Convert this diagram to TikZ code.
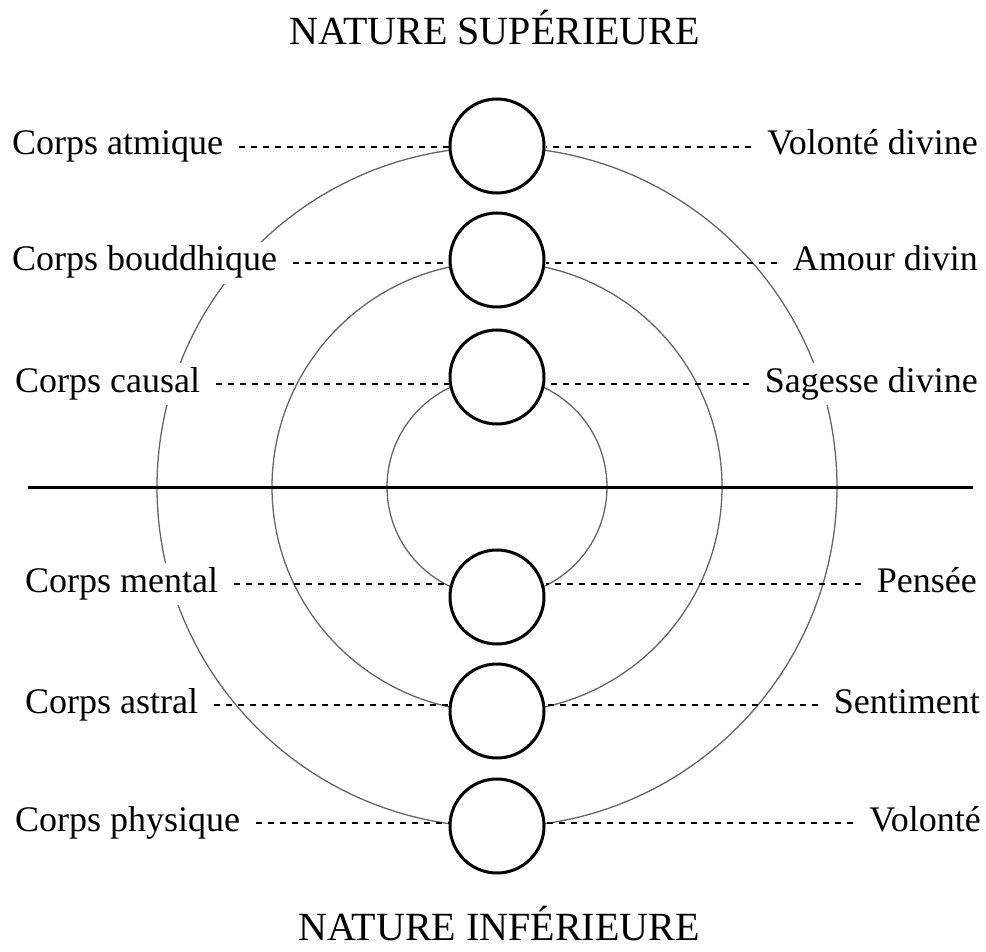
\documentclass[tikz,border=0pt]{standalone}
\usepackage{fontspec}
\setmainfont{Liberation Serif}
\begin{document}
\begin{tikzpicture}[x=1pt,y=-1pt,
  bigarc/.style={draw=black!60, line width=1.3pt},
  divider/.style={draw=black, line width=3pt},
  body/.style={circle, draw=black, line width=3pt, fill=white, minimum size=94pt, inner sep=0pt},
  leftlab/.style={anchor=west, fill=white, inner xsep=4pt, inner ysep=3pt, text height=26pt, text depth=10pt, font=\fontsize{36}{43}\selectfont},
  rightlab/.style={anchor=east, fill=white, inner xsep=4pt, inner ysep=3pt, text height=26pt, text depth=10pt, font=\fontsize{36}{43}\selectfont},
  title/.style={anchor=base, inner sep=0pt, font=\fontsize{40}{48}\selectfont},
  link/.style={draw=black, line width=2.6pt, dash pattern=on 6pt off 6pt},
  linkl/.style={link, shorten <=12pt},
  linkr/.style={link, shorten <=12pt}]
\useasboundingbox (0,0) rectangle (986,952);
\fill[white] (0,0) rectangle (986,952);

% concentric circles
\coordinate (ctr) at (497,487);
\draw[bigarc] (ctr) circle[radius=340];
\draw[bigarc] (ctr) circle[radius=225];
\draw[bigarc] (ctr) circle[radius=110];

% divider
\coordinate (hl) at (28,487);
\coordinate (hr) at (973,487);
\draw[divider] (hl) -- (hr);

% titles
\node[title] (tsup) at (495,45) {NATURE SUPÉRIEURE};
\node[title] (tinf) at (499,940) {NATURE INFÉRIEURE};

% left labels
\node[leftlab] (l1) at (8,147) {Corps atmique};
\node[leftlab] (l2) at (8,263) {Corps bouddhique};
\node[leftlab] (l3) at (11,384) {Corps causal};
\node[leftlab] (l4) at (21,584) {Corps mental};
\node[leftlab] (l5) at (21,705) {Corps astral};
\node[leftlab] (l6) at (11,823) {Corps physique};

% right labels
\node[rightlab] (r1) at (982,147) {Volonté divine};
\node[rightlab] (r2) at (982,263) {Amour divin};
\node[rightlab] (r3) at (982,384) {Sagesse divine};
\node[rightlab] (r4) at (981,584) {Pensée};
\node[rightlab] (r5) at (984,705) {Sentiment};
\node[rightlab] (r6) at (985,823) {Volonté};

% bodies
\node[body] (c1) at (497,146) {};
\node[body] (c2) at (497,260) {};
\node[body] (c3) at (497,377) {};
\node[body] (c4) at (497,597) {};
\node[body] (c5) at (497,711) {};
\node[body] (c6) at (497,826) {};

% dashed links
\foreach \i in {1,...,6}{
  \draw[linkl] (l\i.east) -- (l\i.east -| c\i.west);
  \draw[linkr] (r\i.west) -- (r\i.west -| c\i.east);
}
\end{tikzpicture}
\end{document}
